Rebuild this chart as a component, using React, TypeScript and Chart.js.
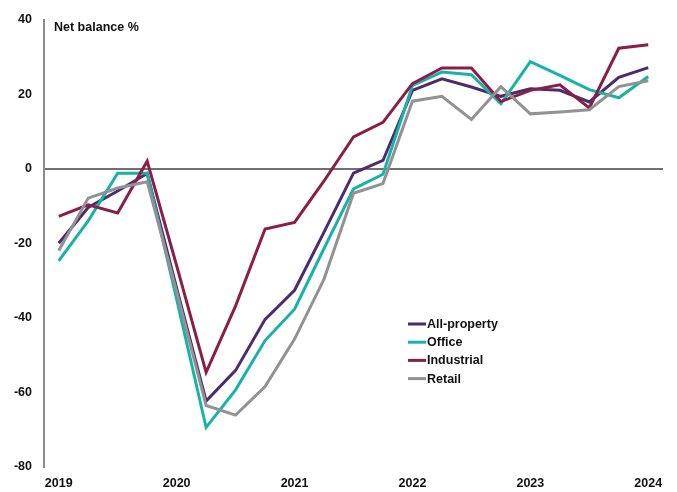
import React, { useEffect, useRef } from "react";
import { Chart, registerables } from "chart.js";

Chart.register(...registerables);

const quarters = [
  "2019 Q1", "2019 Q2", "2019 Q3", "2019 Q4",
  "2020 Q1", "2020 Q2", "2020 Q3", "2020 Q4",
  "2021 Q1", "2021 Q2", "2021 Q3", "2021 Q4",
  "2022 Q1", "2022 Q2", "2022 Q3", "2022 Q4",
  "2023 Q1", "2023 Q2", "2023 Q3", "2023 Q4",
  "2024 Q1",
];

const allProperty = [-20, -10.4, -6, -1.3, -32, -62.3, -54.1, -40.4, -32.6, -17, -1.2, 2.2, 21, 24.1, 21.9, 19.4, 21.4, 21, 17.9, 24.5, 27.1];
const office = [-24.7, -14, -1.2, -1.2, -35, -69.4, -59.3, -46.1, -37.7, -21.4, -5.4, -1.5, 22.3, 25.9, 25.2, 17.4, 28.7, 25, 21.2, 19, 24.7];
const industrial = [-12.8, -9.7, -11.9, 2, -26, -54.6, -36.8, -16.2, -14.4, -3.3, 8.5, 12.4, 22.8, 27, 27, 18, 21, 22.5, 16.3, 32.3, 33.2];
const retail = [-22, -7.9, -5.2, -3.5, -33, -63.5, -66.1, -58.4, -45.7, -29.6, -6.6, -4, 18.1, 19.4, 13.2, 22, 14.7, 15.2, 15.8, 22, 23.6];

const seriesNames = ["All-property", "Office", "Industrial", "Retail"];
const seriesColors = ["#4b2c6f", "#17b3a6", "#8b1e47", "#929292"];
const yTitle = "Net balance %";

const FONT = "'Liberation Sans', Arial, sans-serif";

const overlayPlugin = {
  id: "overlay",
  afterDraw(chart: any) {
    const { ctx, chartArea } = chart;
    ctx.save();
    ctx.font = `bold 12.5px ${FONT}`;
    ctx.fillStyle = "#111";
    ctx.textBaseline = "middle";
    ctx.textAlign = "left";
    ctx.fillText(yTitle, chartArea.left + 10, chartArea.top + 8);
    // legend
    const lx = 408;
    const ly = 324;
    seriesNames.forEach((name, i) => {
      const y = ly + i * 18.2;
      ctx.strokeStyle = seriesColors[i];
      ctx.lineWidth = 3;
      ctx.beginPath();
      ctx.moveTo(lx, y);
      ctx.lineTo(lx + 18, y);
      ctx.stroke();
      ctx.fillStyle = "#111";
      ctx.fillText(name, lx + 19, y + 0.5);
    });
    ctx.restore();
  },
};

export default function App() {
  const ref = useRef<HTMLCanvasElement | null>(null);
  useEffect(() => {
    if (!ref.current) return;
    const data = [allProperty, office, industrial, retail];
    const chart = new Chart(ref.current, {
      type: "line",
      data: {
        labels: quarters,
        datasets: seriesNames.map((name, i) => ({
          label: name,
          data: data[i],
          borderColor: seriesColors[i],
          backgroundColor: seriesColors[i],
          borderWidth: 3,
          pointRadius: 0,
          tension: 0,
          fill: false,
          order: 4 - i,
        })),
      },
      options: {
        animation: false,
        responsive: false,
        maintainAspectRatio: false,
        layout: { padding: { left: 0, right: 14, top: 17, bottom: 0 } },
        plugins: { legend: { display: false }, tooltip: { enabled: false } },
        scales: {
          x: {
            type: "category",
            offset: true,
            grid: { display: false, drawTicks: false },
            border: { display: false },
            ticks: {
              autoSkip: false,
              maxRotation: 0,
              padding: 9,
              color: "#111",
              font: { family: FONT, size: 12.5, weight: "bold" },
              callback: (_v: any, i: number) => (i % 4 === 0 ? quarters[i].slice(0, 4) : ""),
            },
            afterFit: (s: any) => {
              s.height = 25;
            },
          },
          y: {
            min: -80,
            max: 40,
            ticks: {
              stepSize: 20,
              padding: 12,
              color: "#111",
              font: { family: FONT, size: 12.5, weight: "bold" },
            },
            border: { display: true, color: "#8c8c8c", width: 2 },
            grid: {
              drawTicks: false,
              lineWidth: 2,
              color: (c: any) => (c.tick && c.tick.value === 0 ? "#707070" : "rgba(0,0,0,0)"),
            },
            afterFit: (s: any) => {
              s.width = 44;
            },
          },
        },
      },
      plugins: [overlayPlugin],
    });
    return () => chart.destroy();
  }, []);
  return (
    <div style={{ position: "fixed", left: 0, top: 0, width: 677, height: 492, background: "#fff" }}>
      <canvas ref={ref} width={677} height={492} style={{ width: 677, height: 492, display: "block" }} />
    </div>
  );
}
